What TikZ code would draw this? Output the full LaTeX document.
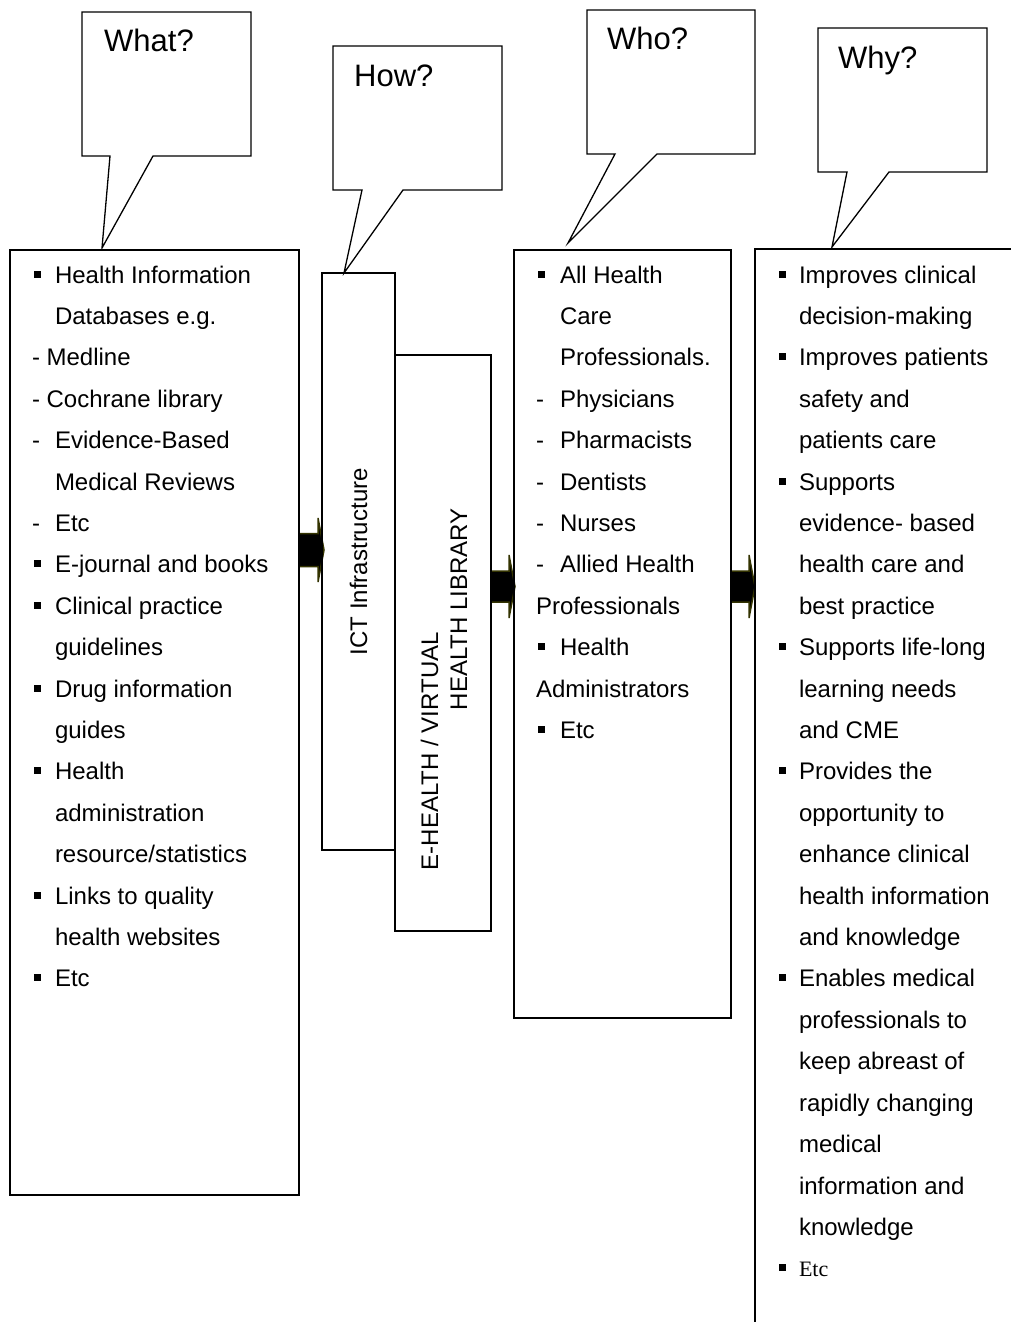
\documentclass[tikz,border=0pt]{standalone}
\usepackage{fontspec}
\setmainfont{Liberation Sans}
\newfontfamily\serifetc{Liberation Serif}
\definecolor{arrowolive}{RGB}{51,51,0}
\pgfdeclarelayer{bg}
\pgfsetlayers{bg,main}
\tikzset{
  pics/barrow/.style n args={4}{code={
    \filldraw[blockarrow] (0,{-#3}) -- (#1,{-#3}) -- (#1,{-#4}) -- ({#1+#2},0) -- (#1,#4) -- (#1,#3) -- (0,#3) -- cycle;}}
}
\begin{document}
\begin{tikzpicture}[x=1pt,y=-1pt,line join=miter,
  box/.style={draw, line width=1.3pt, inner sep=0pt, outer sep=0pt, anchor=north west},
  txt/.style={anchor=base west, inner sep=0pt, outer sep=0pt, font=\fontsize{24}{29}\selectfont},
  qtxt/.style={anchor=base west, inner sep=0pt, font=\fontsize{31}{37}\selectfont},
  bul/.style={fill=black, minimum size=7pt, inner sep=0pt, outer sep=0pt},
  callout/.style={draw, line width=1.3pt},
  blockarrow/.style={fill=black, draw=arrowolive, line width=1.5pt}
]
\useasboundingbox (0,0) rectangle (1011,1322);

% callouts
\draw[callout] (82,12) -- (251,12) -- (251,156) -- (153,156) -- (102,248) -- (110,156) -- (82,156) -- cycle;
\draw[callout] (333,46) -- (502,46) -- (502,190) -- (403,190) -- (344,273) -- (362,190) -- (333,190) -- cycle;
\draw[callout] (587,10) -- (755,10) -- (755,154) -- (657,154) -- (568,243) -- (615,154) -- (587,154) -- cycle;
\draw[callout] (818,28) -- (987,28) -- (987,172) -- (889,172) -- (832,247) -- (847,172) -- (818,172) -- cycle;
\node[qtxt] (qwhat) at (104,52) {What?};
\node[qtxt] (qhow) at (354,86) {How?};
\node[qtxt] (qwho) at (607,50) {Who?};
\node[qtxt] (qwhy) at (838,69) {Why?};

% boxes
\node[box, minimum width=289pt, minimum height=945pt] (whatbox) at (10,250) {};
\node[box, minimum width=73pt, minimum height=577pt] (ict) at (322,273) {};
\node[box, minimum width=96pt, minimum height=576pt] (ehl) at (395,355) {};
\node[box, minimum width=217pt, minimum height=768pt] (whobox) at (514,250) {};
\coordinate (whytr) at (1011,249);
\coordinate (whytl) at (755,249);
\coordinate (whybl) at (755,1322);
\draw[line width=1.3pt] (whytr) -- (whytl) -- (whybl);

% rotated labels
\node[txt, rotate=90] (ictlab) at (367,655) {ICT Infrastructure};
\node[txt, rotate=90] (ehlab1) at (438,870) {E-HEALTH / VIRTUAL};
\node[txt, rotate=90] (ehlab2) at (467,710) {HEALTH LIBRARY};

% block arrows
\coordinate (r1) at (0,550);
\coordinate (r2) at (0,586.5);
\begin{pgfonlayer}{bg}
\path (whatbox.east |- r1) pic {barrow={19}{6}{16.5}{32}};
\path (ehl.east |- r2) pic {barrow={18}{6}{15.5}{31.5}};
\path (whobox.east |- r2) pic {barrow={18}{6}{15.5}{31.5}};
\end{pgfonlayer}

% left column
\foreach \xx/\t [count=\i] in {55/Health Information, 55/Databases e.g., 32/- Medline, 32/- Cochrane library, 55/Evidence-Based, 55/Medical Reviews, 55/Etc, 55/E-journal and books, 55/Clinical practice, 55/guidelines, 55/Drug information, 55/guides, 55/Health, 55/administration, 55/{resource/statistics}, 55/Links to quality, 55/health websites, 55/Etc}
  \node[txt] (L\i) at (\xx,{283+41.41*(\i-1)}) {\t};
\foreach \i in {5,7}
  \node[txt] (Ld\i) at (32,{283+41.41*(\i-1)}) {-};
\foreach \i in {1,8,9,11,13,16,18}
  \node[bul] (Lb\i) at (37,{274+41.41*(\i-1)}) {};

% who column
\foreach \xx/\t [count=\i] in {560/All Health, 560/Care, 560/Professionals., 560/Physicians, 560/Pharmacists, 560/Dentists, 560/Nurses, 560/Allied Health, 536/Professionals, 560/Health, 536/Administrators, 560/Etc}
  \node[txt] (W\i) at (\xx,{283+41.41*(\i-1)}) {\t};
\foreach \i in {4,5,6,7,8}
  \node[txt] (Wd\i) at (536,{283+41.41*(\i-1)}) {-};
\foreach \i in {1,10,12}
  \node[bul] (Wb\i) at (541,{274+41.41*(\i-1)}) {};

% why column
\foreach \t [count=\i] in {Improves clinical, decision-making, Improves patients, safety and, patients care, Supports, evidence- based, health care and, best practice, Supports life-long, learning needs, and CME, Provides the, opportunity to, enhance clinical, health information, and knowledge, Enables medical, professionals to, keep abreast of, rapidly changing, medical, information and, knowledge}
  \node[txt] (Y\i) at (799,{283+41.41*(\i-1)}) {\t};
\node[txt, font=\serifetc\fontsize{22}{26}\selectfont] (Y25) at (799,{283+41.41*24}) {Etc};
\foreach \i in {1,3,6,10,13,18,25}
  \node[bul] (Yb\i) at (782,{274+41.41*(\i-1)}) {};
\end{tikzpicture}
\end{document}
